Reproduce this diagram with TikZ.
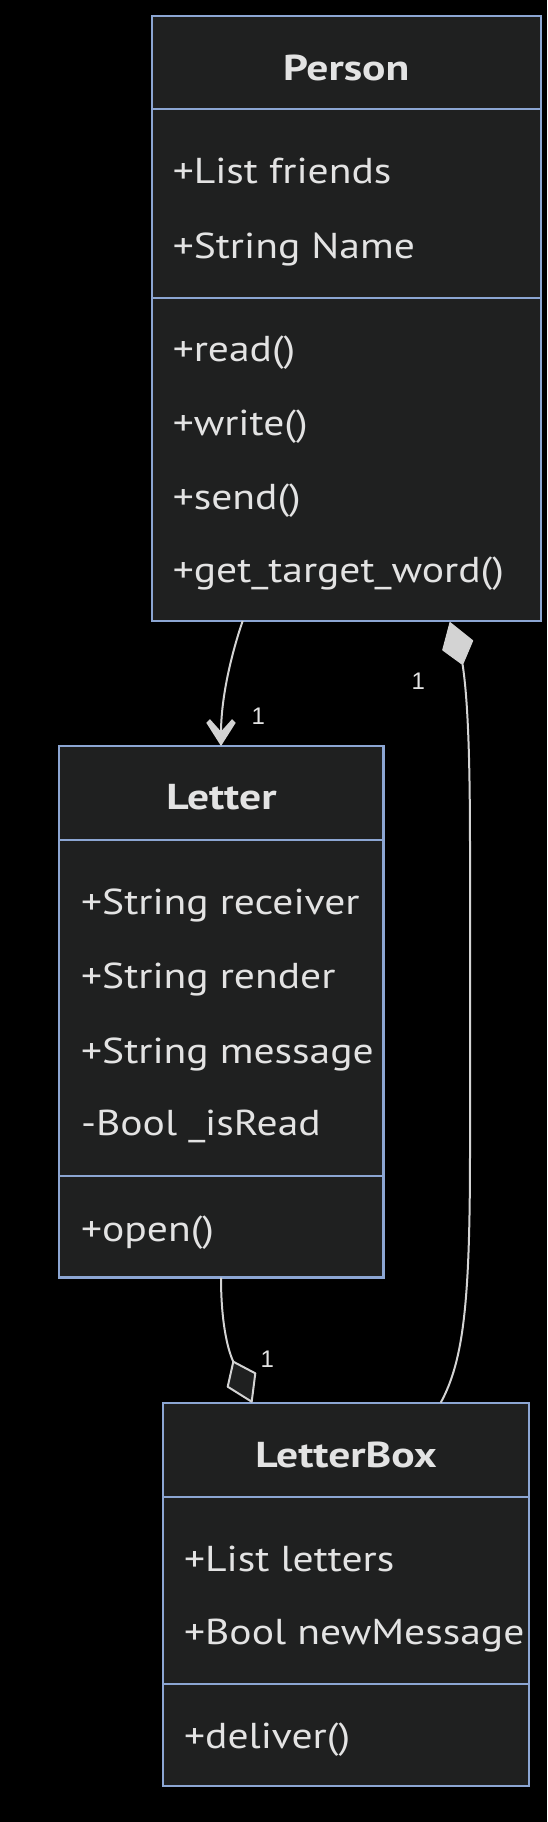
\documentclass[tikz,border=0pt]{standalone}
\usepackage{fontspec}
\setmainfont{PT Sans}[FakeStretch=1.155]
\newfontfamily\titlefont{PT Sans}[FakeStretch=1.21]
\newfontfamily\labelfont{Liberation Sans}
\usetikzlibrary{calc}
\definecolor{boxfill}{HTML}{1F2020}
\definecolor{boxborder}{HTML}{8CA6D3}
\definecolor{txt}{HTML}{E3E3E3}
\definecolor{edgec}{HTML}{D3D3D3}
\begin{document}
\begin{tikzpicture}[x=1pt,y=-1pt,
  classbox/.style={draw=boxborder, fill=boxfill, line width=2.2pt, anchor=north west, inner sep=0pt, outer sep=0pt},
  divider/.style={draw=boxborder, line width=2.2pt},
  titletext/.style={font=\titlefont\fontsize{36}{42}\selectfont\bfseries, text=txt, anchor=base, inner sep=0pt},
  member/.style={font=\fontsize{36}{42}\selectfont, text=txt, anchor=base west, inner sep=0pt},
  mult/.style={font=\labelfont\fontsize{24}{27}\selectfont, text=txt, inner sep=0pt},
  rel/.style={draw=edgec, line width=2pt},
]
\fill[black] (0,0) rectangle (547,1822);
\useasboundingbox (0,0) rectangle (547,1822);

% ---------- Person ----------
\node[classbox, minimum width=388.9pt, minimum height=604.7pt] (person) at (151.7,16.3) {};
\draw[divider] (151.7,109.4) -- (540.6,109.4);
\draw[divider] (151.7,298) -- (540.6,298);
\node[titletext] (personT) at (346.2,80.8) {Person};
\node[member] (p1) at (172.6,183.7) {+List friends};
\node[member] (p2) at (172.6,258) {+String Name};
\node[member] (p3) at (172.6,361.2) {+read()};
\node[member] (p4) at (172.6,435.9) {+write()};
\node[member] (p5) at (172.6,509.4) {+send()};
\node[member] (p6) at (172.6,582.9) {+get\_target\_word()};

% ---------- Letter ----------
\node[classbox, minimum width=324.2pt, minimum height=531.5pt] (letter) at (59.3,746) {};
\draw[divider] (59.3,840) -- (383.5,840);
\draw[divider] (59.3,1176) -- (383.5,1176);
\node[titletext] (letterT) at (221.4,809.8) {Letter};
\node[member] (l1) at (81,914.7) {+String receiver};
\node[member] (l2) at (81,988.4) {+String render};
\node[member] (l3) at (81,1063) {+String message};
\node[member] (l4) at (81,1135.7) {-Bool \_isRead};
\node[member] (l5) at (81,1241.5) {+open()};

% ---------- LetterBox ----------
\node[classbox, minimum width=366.1pt, minimum height=383.3pt] (box) at (162.9,1402.7) {};
\draw[divider] (162.9,1496.6) -- (529,1496.6);
\draw[divider] (162.9,1684) -- (529,1684);
\node[titletext] (boxT) at (346,1467) {LetterBox};
\node[member] (b1) at (184,1571) {+List letters};
\node[member] (b2) at (184,1644) {+Bool newMessage};
\node[member] (b3) at (184,1748) {+deliver()};

% ---------- connector end points ----------
\coordinate (pa) at ($(person.south west)+(91,0)$);
\coordinate (la) at ($(letter.north west)+(161.7,0)$);
\coordinate (lanotch) at ($(la)+(0,-13)$);
\coordinate (pc) at ($(person.south west)+(298.6,0)$);
\coordinate (pcend) at (462.6,664.5);
\coordinate (bc) at ($(box.north west)+(277.8,0)$);
\coordinate (lb) at ($(letter.south west)+(161.7,0)$);
\coordinate (bd) at ($(box.north west)+(88.8,0)$);
\coordinate (bdtop) at (233.3,1361.7);

% Person -> Letter (association)
\draw[rel] (pa) .. controls (236,640) and (221,690) .. (lanotch);
\fill[edgec] (206.3,722.8) -- (210,719.2) -- (221,731.5) -- (232,719.2) -- (235.7,722.8) -- (la) -- cycle;
\node[mult] (m1) at (258.3,716) {1};

% Person <>-- LetterBox (composition)
\draw[rel] (pcend) .. controls (468,700) and (470,760) .. (470,850) -- (470,1150) .. controls (470,1300) and (464,1360) .. (bc);
\fill[edgec, draw=edgec, line width=1pt, line join=round] (450,622.5) -- (472.7,640.7) -- (pcend) -- (442.7,650) -- cycle;
\node[mult] (m2) at (418.3,681.7) {1};

% Letter -- <>LetterBox (aggregation)
\draw[rel] (lb) .. controls (221,1320) and (227,1348) .. (bdtop);
\draw[rel, fill=boxfill, line join=round] (bdtop) -- (255.3,1373.3) -- (251.7,1401.7) -- (227.7,1386.7) -- cycle;
\node[mult] (m3) at (267.3,1359) {1};
\end{tikzpicture}
\end{document}
